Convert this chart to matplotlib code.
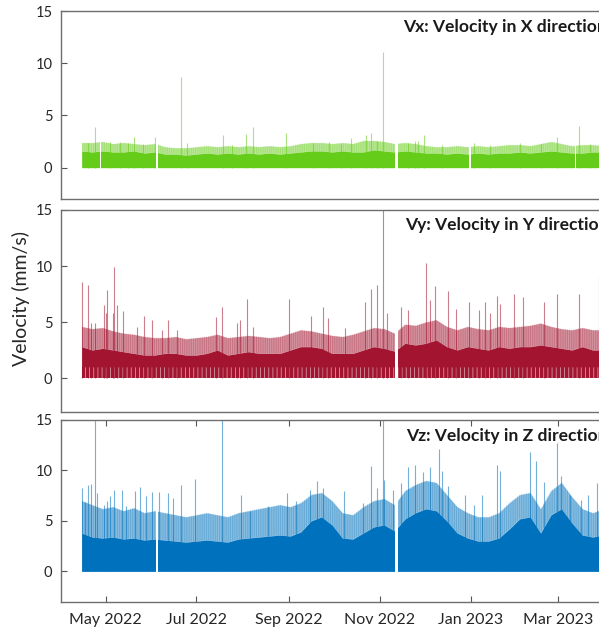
import matplotlib.pyplot as plt
import matplotlib.dates as mdates
import pandas as pd

plt.rcParams['font.family'] = ['Lato', 'DejaVu Sans']
plt.rcParams['hatch.linewidth'] = 0.6

# weekly level of the dense record (solid part) and of its hairy fringe, mm/s
week_start = '2022-04-15'

vx_band = [1.6, 1.5, 1.6, 1.5, 1.5, 1.6, 1.4, 1.5, 1.3, 1.3, 1.2, 1.3, 1.4, 1.3,
           1.4, 1.3, 1.4, 1.3, 1.4, 1.3, 1.4, 1.5, 1.6, 1.6, 1.5, 1.6, 1.5, 1.5,
           1.7, 1.6, 1.5, 1.6, 1.5, 1.4, 1.4, 1.3, 1.4, 1.3, 1.4, 1.3, 1.4, 1.4,
           1.5, 1.4, 1.5, 1.6, 1.5, 1.4, 1.4, 1.5, 1.5, 1.5]
vx_fringe = [2.4, 2.4, 2.5, 2.3, 2.4, 2.3, 2.2, 2.3, 2.0, 1.9, 1.9, 2.0, 2.1, 2.0,
             2.1, 2.0, 2.1, 2.0, 2.1, 2.0, 2.1, 2.3, 2.4, 2.4, 2.3, 2.4, 2.3, 2.6,
             2.6, 2.5, 2.3, 2.4, 2.3, 2.1, 2.0, 2.0, 2.1, 2.0, 2.1, 2.0, 2.1, 2.2,
             2.2, 2.1, 2.3, 2.5, 2.3, 2.1, 2.2, 2.2, 2.1, 2.2]
vx_gaps = [('2022-04-27', '2022-04-28'), ('2022-06-04', '2022-06-05'),
           ('2022-11-11', '2022-11-13'), ('2022-12-31', '2023-01-01'),
           ('2023-03-12', '2023-03-13')]
vx_spike_dates = ['2022-04-19', '2022-04-24', '2022-05-04', '2022-05-11', '2022-05-16',
                  '2022-05-20', '2022-05-26', '2022-06-03', '2022-06-21', '2022-06-25',
                  '2022-07-19', '2022-07-25', '2022-08-03', '2022-08-08', '2022-08-30',
                  '2022-09-17', '2022-09-28', '2022-10-06', '2022-10-13', '2022-10-23',
                  '2022-10-26', '2022-10-30', '2022-11-03', '2022-11-20', '2022-11-25',
                  '2022-11-27', '2022-12-01', '2022-12-13', '2023-01-03', '2023-01-14',
                  '2023-02-03', '2023-02-17', '2023-02-28', '2023-03-15', '2023-03-22']
vx_spike_vals = [2.4, 3.9, 2.5, 2.5, 2.4, 2.9, 2.3, 2.9, 8.7, 2.4,
                 3.1, 2.2, 3.2, 3.85, 3.3, 2.4, 2.5, 2.3, 2.8, 3.1,
                 3.35, 2.6, 11.1, 2.4, 2.6, 2.6, 3.1, 2.2, 2.4, 2.2,
                 2.4, 2.3, 2.9, 4.0, 2.3]

vy_floor = 1.0
vy_band = [2.8, 2.5, 2.65, 2.5, 2.35, 2.2, 2.05, 2.05, 2.2, 2.2, 2.05, 2.05, 2.2, 2.5,
           2.05, 2.2, 2.35, 2.2, 2.2, 2.2, 2.5, 2.8, 2.8, 2.65, 2.2, 2.2, 2.2, 2.5,
           2.8, 2.65, 2.4, 3.1, 2.95, 3.1, 3.4, 2.8, 2.5, 2.8, 2.65, 2.5, 2.8, 2.65,
           2.8, 2.8, 2.95, 2.8, 2.65, 2.5, 2.8, 2.5, 2.5, 2.5]
vy_fringe = [4.6, 4.4, 4.5, 4.2, 4.0, 3.9, 3.7, 3.6, 3.6, 3.7, 3.5, 3.6, 3.7, 3.9,
             3.6, 3.7, 3.8, 3.7, 3.6, 3.7, 4.0, 4.3, 4.2, 4.0, 3.8, 3.7, 3.9, 4.2,
             4.5, 4.4, 4.0, 4.8, 4.7, 5.0, 5.2, 4.6, 4.3, 4.6, 4.4, 4.3, 4.6, 4.5,
             4.6, 4.7, 4.9, 4.6, 4.4, 4.3, 4.5, 4.3, 4.3, 4.4]
vy_gaps = [('2022-11-11', '2022-11-13')]
vy_spike_dates = ['2022-04-15', '2022-04-19', '2022-04-21', '2022-04-24', '2022-04-30',
                  '2022-05-01', '2022-05-02', '2022-05-06', '2022-05-07', '2022-05-09',
                  '2022-05-13', '2022-05-22', '2022-05-27', '2022-06-01', '2022-06-08',
                  '2022-06-12', '2022-06-18', '2022-07-14', '2022-07-18', '2022-07-28',
                  '2022-07-30', '2022-08-04', '2022-08-08', '2022-09-01', '2022-09-16',
                  '2022-09-24', '2022-09-27', '2022-10-09', '2022-10-22', '2022-10-26',
                  '2022-10-30', '2022-11-03', '2022-11-06', '2022-11-15', '2022-11-20',
                  '2022-12-02', '2022-12-05', '2022-12-08', '2022-12-17', '2022-12-22',
                  '2022-12-31', '2023-01-07', '2023-01-11', '2023-01-14', '2023-01-19',
                  '2023-01-21', '2023-01-30', '2023-02-05', '2023-02-19', '2023-02-28',
                  '2023-03-15', '2023-03-28']
vy_spike_vals = [8.6, 8.3, 4.9, 4.9, 6.5, 5.8, 7.9, 5.8, 9.9, 6.5,
                 6.0, 4.6, 5.5, 5.15, 4.3, 5.15, 4.3, 5.45, 6.35, 4.9,
                 5.15, 7.05, 4.6, 7.05, 5.5, 6.35, 5.4, 4.5, 6.75, 7.95,
                 8.35, 16.0, 5.85, 6.35, 6.1, 10.3, 7.0, 8.2, 7.8, 6.2,
                 6.8, 6.1, 6.8, 5.85, 7.3, 6.6, 7.5, 7.2, 6.8, 7.5,
                 7.5, 9.0]

vz_band = [3.8, 3.4, 3.3, 3.4, 3.2, 3.3, 3.1, 3.2, 3.1, 3.0, 2.9, 3.0, 3.1, 3.0,
           2.9, 3.2, 3.3, 3.4, 3.5, 3.6, 3.5, 3.9, 5.0, 5.4, 4.6, 3.3, 3.2, 3.8,
           4.4, 4.6, 4.0, 5.2, 5.8, 6.2, 6.0, 5.0, 3.8, 3.3, 3.0, 3.0, 3.3, 4.2,
           5.2, 5.4, 3.8, 5.6, 6.2, 4.8, 3.6, 3.4, 3.6, 3.5]
vz_fringe = [7.0, 6.6, 6.2, 6.4, 6.0, 6.3, 5.8, 6.0, 5.8, 5.6, 5.4, 5.6, 5.8, 5.6,
             5.4, 5.8, 6.0, 6.2, 6.4, 6.6, 6.4, 6.8, 7.6, 7.8, 7.0, 5.8, 5.6, 6.4,
             7.0, 7.2, 6.6, 8.0, 8.6, 9.0, 8.8, 7.6, 6.4, 5.8, 5.4, 5.4, 5.8, 6.8,
             7.6, 7.8, 6.2, 8.0, 8.8, 7.4, 6.2, 5.8, 6.2, 6.0]
vz_gaps = [('2022-06-04', '2022-06-05'), ('2022-11-11', '2022-11-13')]
vz_spike_dates = ['2022-04-15', '2022-04-17', '2022-04-19', '2022-04-21', '2022-04-24',
                  '2022-04-25', '2022-04-30', '2022-05-02', '2022-05-04', '2022-05-07',
                  '2022-05-12', '2022-05-15', '2022-05-21', '2022-05-24', '2022-05-28',
                  '2022-06-01', '2022-06-06', '2022-06-12', '2022-06-15', '2022-06-21',
                  '2022-06-30', '2022-07-18', '2022-07-31', '2022-08-06', '2022-08-18',
                  '2022-08-31', '2022-09-06', '2022-09-15', '2022-09-20', '2022-09-24',
                  '2022-10-08', '2022-10-21', '2022-10-26', '2022-10-30', '2022-11-03',
                  '2022-11-04', '2022-11-10', '2022-11-15', '2022-11-20', '2022-11-25',
                  '2022-11-30', '2022-12-05', '2022-12-11', '2022-12-13', '2022-12-17',
                  '2022-12-28', '2023-01-03', '2023-01-09', '2023-01-19', '2023-01-21',
                  '2023-02-10', '2023-02-14', '2023-02-19', '2023-02-28', '2023-03-03',
                  '2023-03-09', '2023-03-16', '2023-03-21', '2023-03-27']
vz_spike_vals = [8.3, 6.9, 8.6, 8.7, 16.0, 7.8, 6.6, 6.95, 7.45, 8.1,
                 8.1, 6.5, 8.0, 8.4, 7.45, 7.9, 7.9, 7.8, 7.3, 8.6,
                 9.2, 16.0, 7.6, 6.0, 6.5, 7.8, 7.0, 8.1, 9.0, 8.3,
                 8.0, 6.8, 10.4, 8.3, 16.0, 9.1, 8.1, 8.8, 10.3, 10.5,
                 9.8, 10.3, 12.1, 9.9, 8.5, 7.6, 6.6, 7.6, 10.5, 9.9,
                 11.8, 10.9, 8.9, 12.7, 9.4, 7.6, 7.1, 7.6, 8.8]

panels = [
    ('Vx: Velocity in X direction', '#66cc1a', vx_band, vx_fringe, None,
     vx_gaps, vx_spike_dates, vx_spike_vals),
    ('Vy: Velocity in Y direction', '#a2142f', vy_band, vy_fringe, vy_floor,
     vy_gaps, vy_spike_dates, vy_spike_vals),
    ('Vz: Velocity in Z direction', '#0072bd', vz_band, vz_fringe, None,
     vz_gaps, vz_spike_dates, vz_spike_vals),
]

# axes boxes in figure fractions; the time axis runs past the right edge
x_start, x_stop = pd.Timestamp('2022-04-01'), pd.Timestamp('2023-04-30')
px_per_day = 1.49
ax_left = 60.8 / 599
ax_width = (x_stop - x_start).days * px_per_day / 599
boxes = [(0.6826, 0.2998), (0.3434, 0.3217), (0.0404, 0.2898)]
title_pos = [('2022-11-17', 13.5), ('2022-11-18', 13.65), ('2022-11-19', 13.4)]

fig = plt.figure(figsize=(5.99, 6.27), dpi=100)

for k, (title, color, band, fringe, floor, gaps, sp_dates, sp_vals) in enumerate(panels):
    ax = fig.add_axes([ax_left, boxes[k][0], ax_width, boxes[k][1]])
    weeks = pd.date_range(week_start, periods=len(band), freq='7D')

    # hairy fringe above the dense band: wash plus faint vertical strokes
    ax.fill_between(weeks, band, fringe, color=color, alpha=0.45, lw=0)
    ax.fill_between(weeks, band, fringe, facecolor='none', edgecolor=color,
                    hatch='|||||||||', lw=0, alpha=0.3)
    if floor is None:
        ax.fill_between(weeks, 0, band, color=color, lw=0)
    else:
        # frequent drop-outs near zero leave thin white slits
        ax.fill_between(weeks, 0, floor, facecolor=color, edgecolor=(1, 1, 1, 0.55),
                        hatch='||||', lw=0)
        ax.fill_between(weeks, floor, band, color=color, lw=0)
    ax.vlines(pd.to_datetime(sp_dates), 0, sp_vals, colors=color, lw=0.8, alpha=0.55)

    # days without record
    for g0, g1 in gaps:
        ax.axvspan(pd.Timestamp(g0), pd.Timestamp(g1), color='white', lw=0, zorder=2)

    ax.text(pd.Timestamp(title_pos[k][0]), title_pos[k][1], title, fontsize=12.6,
            fontweight='bold', color='#1a1a1a', va='center', ha='left', zorder=3)

    ax.set_xlim(x_start, x_stop)
    ax.set_ylim(-3, 15)
    ax.set_yticks([0, 5, 10, 15])
    ax.tick_params(axis='y', direction='in', length=4, width=0.8, color='#555555',
                   labelsize=10.5, labelcolor='#262626', pad=6)
    for s in ax.spines.values():
        s.set_color('#6e6e6e')
        s.set_linewidth(1.0)
    ax.xaxis.set_major_locator(mdates.MonthLocator(bymonth=[1, 3, 5, 7, 9, 11]))
    ax.xaxis.set_major_formatter(mdates.DateFormatter('%b %Y'))
    if k < 2:
        ax.tick_params(axis='x', bottom=False, labelbottom=False)
    else:
        ax.tick_params(axis='x', direction='in', length=4, width=0.8, color='#555555',
                       top=True, labelsize=11.5, labelcolor='#262626', pad=8)

fig.text(21 / 599, 1 - 298 / 627, 'Velocity (mm/s)', rotation=90, fontsize=14,
         color='#262626', va='center', ha='center')

fig.savefig('out.png', dpi=100)
